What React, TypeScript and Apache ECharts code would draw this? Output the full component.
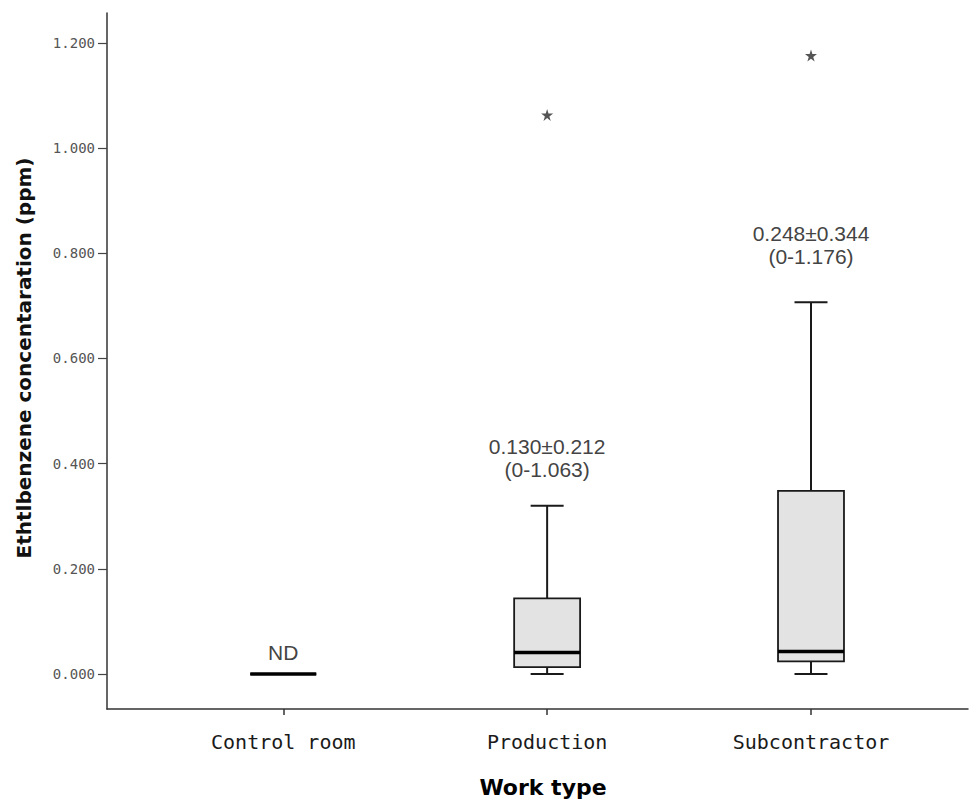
import React, { useEffect, useRef } from "react";
import * as echarts from "echarts";

const categories = ["Control room", "Production", "Subcontractor"];
const categoryPositions = [1, 2, 3];
// [lowerWhisker, Q1, median, Q3, upperWhisker]
const boxValues = [
  [0, 0, 0, 0, 0],
  [0, 0.013, 0.041, 0.144, 0.32],
  [0, 0.024, 0.043, 0.348, 0.707],
];
const outliers = [
  [2, 1.063],
  [3, 1.176],
];
const annotationTexts = ["ND", "0.130±0.212\n(0-1.063)", "0.248±0.344\n(0-1.176)"];
const annotationValues = [0.04, 0.41, 0.816];
const yTicks = [0, 0.2, 0.4, 0.6, 0.8, 1.0, 1.2];

const STAR =
  "path://M50,0 L61,35 L98,35 L68,57 L79,91 L50,70 L21,91 L32,57 L2,35 L39,35 Z";

export default function App() {
  const ref = useRef<HTMLDivElement>(null);
  useEffect(() => {
    if (!ref.current) return;
    const chart = echarts.init(ref.current, null, { renderer: "svg" });
    const boxData = categoryPositions.map((x, i) => [x, ...boxValues[i]]);
    const annData = categoryPositions.map((x, i) => [x, annotationValues[i]]);
    chart.setOption({
      animation: false,
      backgroundColor: "#ffffff",
      grid: { left: 107, top: 13, right: 3, bottom: 93 },
      xAxis: {
        type: "value",
        min: 0.332,
        max: 3.595,
        splitLine: { show: false },
        axisLine: { show: true, onZero: false, lineStyle: { color: "#333", width: 1.5 } },
        axisTick: { show: true, customValues: categoryPositions, length: 6, lineStyle: { color: "#333", width: 1.5 } },
        axisLabel: {
          customValues: categoryPositions,
          formatter: (v: number) => categories[Math.round(v) - 1] ?? "",
          fontFamily: "DejaVu Sans Mono",
          fontSize: 20,
          color: "#1a1a1a",
          margin: 23,
        },
      },
      yAxis: {
        type: "value",
        min: -0.0665,
        max: 1.2567,
        splitLine: { show: false },
        axisLine: { show: true, onZero: false, lineStyle: { color: "#333", width: 1.5 } },
        axisTick: { show: true, customValues: yTicks, length: 9, lineStyle: { color: "#444", width: 1.2 } },
        axisLabel: {
          customValues: yTicks,
          formatter: (v: number) => v.toFixed(3),
          fontFamily: "DejaVu Sans Mono",
          fontSize: 14,
          color: "#555",
          margin: 12,
        },
      },
      graphic: [
        {
          type: "text",
          x: 24,
          y: 358,
          rotation: Math.PI / 2,
          style: {
            text: "Ethtlbenzene concentaration (ppm)",
            fontFamily: "DejaVu Sans",
            fontWeight: "bold",
            fontSize: 20,
            fill: "#111",
            align: "center",
            verticalAlign: "middle",
          },
        },
        {
          type: "text",
          x: 543,
          y: 787,
          style: {
            text: "Work type",
            fontFamily: "DejaVu Sans",
            fontWeight: 900,
            fontSize: 22,
            fill: "#000",
            align: "center",
            verticalAlign: "middle",
          },
        },
      ],
      series: [
        {
          type: "custom",
          name: "box",
          data: boxData,
          encode: { x: 0, y: [1, 2, 3, 4, 5] },
          renderItem: (params: any, api: any) => {
            const x = api.value(0);
            const lo = api.value(1);
            const q1 = api.value(2);
            const med = api.value(3);
            const q3 = api.value(4);
            const hi = api.value(5);
            const halfBox = 0.125;
            const halfCap = 0.0625;
            const tl = api.coord([x - halfBox, q3]);
            const br = api.coord([x + halfBox, q1]);
            const cHi = api.coord([x, hi]);
            const cQ3 = api.coord([x, q3]);
            const cQ1 = api.coord([x, q1]);
            const cLo = api.coord([x, lo]);
            const capHiL = api.coord([x - halfCap, hi]);
            const capHiR = api.coord([x + halfCap, hi]);
            const capLoL = api.coord([x - halfCap, lo]);
            const capLoR = api.coord([x + halfCap, lo]);
            const medL = api.coord([x - halfBox, med]);
            const medR = api.coord([x + halfBox, med]);
            const wStyle = { stroke: "#1a1a1a", lineWidth: 2 };
            return {
              type: "group",
              children: [
                { type: "line", shape: { x1: cQ3[0], y1: cQ3[1], x2: cHi[0], y2: cHi[1] }, style: wStyle },
                { type: "line", shape: { x1: cQ1[0], y1: cQ1[1], x2: cLo[0], y2: cLo[1] }, style: wStyle },
                { type: "line", shape: { x1: capHiL[0], y1: capHiL[1], x2: capHiR[0], y2: capHiR[1] }, style: wStyle },
                { type: "line", shape: { x1: capLoL[0], y1: capLoL[1], x2: capLoR[0], y2: capLoR[1] }, style: wStyle },
                {
                  type: "rect",
                  shape: { x: tl[0], y: tl[1], width: br[0] - tl[0], height: br[1] - tl[1] },
                  style: { fill: "#e3e3e3", stroke: "#1a1a1a", lineWidth: 1.8 },
                },
                { type: "line", shape: { x1: medL[0], y1: medL[1], x2: medR[0], y2: medR[1] }, style: { stroke: "#000", lineWidth: 3.5 } },
              ],
            };
          },
          z: 2,
        },
        {
          type: "scatter",
          name: "outliers",
          data: outliers,
          symbol: STAR,
          symbolSize: 12,
          itemStyle: { color: "#2a2a2a" },
          z: 3,
        },
        {
          type: "custom",
          name: "annotations",
          data: annData,
          encode: { x: 0, y: 1 },
          renderItem: (params: any, api: any) => {
            const p = api.coord([api.value(0), api.value(1)]);
            return {
              type: "text",
              x: p[0],
              y: p[1],
              style: {
                text: annotationTexts[params.dataIndex],
                fontFamily: "Liberation Sans",
                fontSize: 21,
                lineHeight: 23,
                fill: "#444",
                align: "center",
                verticalAlign: "middle",
              },
            };
          },
          z: 4,
        },
      ],
    });
    return () => chart.dispose();
  }, []);
  return (
    <div
      ref={ref}
      style={{ position: "fixed", left: 0, top: 0, width: 971, height: 802, background: "#fff" }}
    />
  );
}
